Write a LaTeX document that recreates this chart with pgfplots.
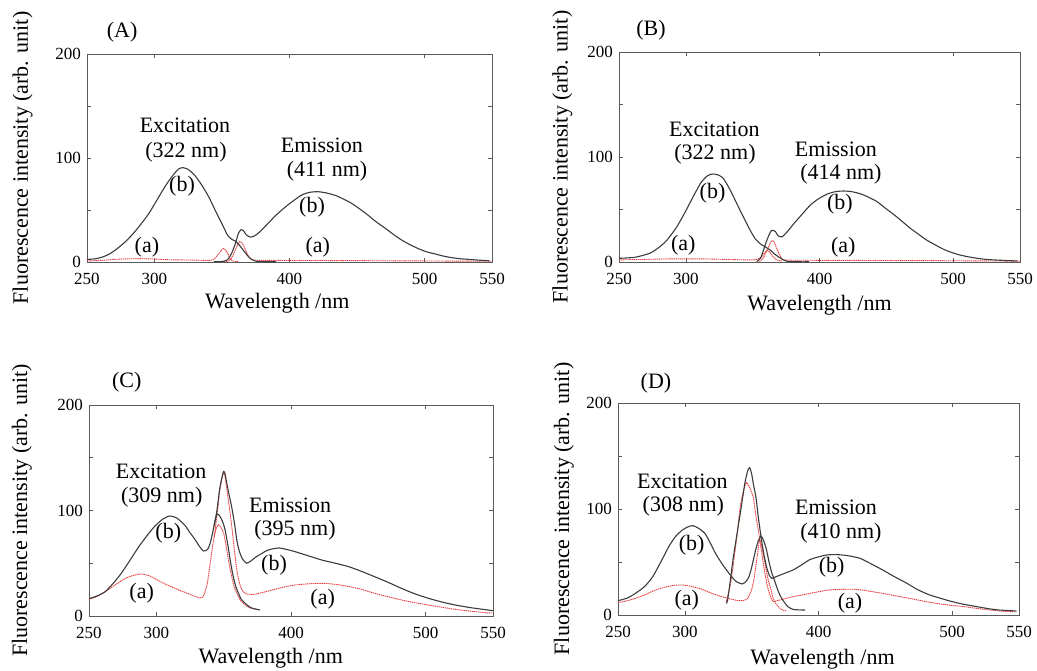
\documentclass[border=0pt]{standalone}
\usepackage{fontspec}
\setmainfont{Liberation Serif}
\usepackage{pgfplots}
\pgfplotsset{compat=1.18}
\definecolor{cblack}{RGB}{60,60,60}
\definecolor{cred}{RGB}{228,60,60}
\definecolor{cframe}{RGB}{90,90,90}
\newcommand\bigf{\fontsize{22}{26}\selectfont}
\newcommand\smallf{\fontsize{17}{20}\selectfont}
\pgfplotsset{
  panel/.style={
    scale only axis, anchor=south west,
    xmin=250, xmax=550, ymin=0, ymax=200,
    xtick={250,300,400,500,550},
    ytick={0,50,100,150,200}, yticklabels={0,,100,,200},
    tick align=inside, major tick length=4pt,
    tick style={color=cframe, line width=0.6pt},
    axis line style={color=cframe, line width=0.9pt},
    /pgf/number format/assume math mode=true,
    ticklabel style={font=\smallf, inner sep=1pt},
    xticklabel style={yshift=-10pt},
    yticklabel style={xshift=-5pt},
    label style={font=\bigf},
    xlabel={Wavelength /nm},
    ylabel={Fluorescence intensity (arb. unit)},
    clip=false,
  },
  bk/.style={color=cblack, line width=1.1pt, smooth, tension=0.4, no marks},
  rd/.style={color=cred, line width=0.9pt, dash pattern=on 1.4pt off 0.7pt, smooth, tension=0.4, no marks},
}
\begin{document}
\begin{tikzpicture}[x=1pt,y=1pt]
\path[use as bounding box] (0,0) rectangle (1037,670);

% ---------------- (A) ----------------
\begin{axis}[panel, at={(87pt,408pt)}, width=405pt, height=208pt,
  xlabel style={at={(axis description cs:0.47,-0.197)}, anchor=center},
  ylabel style={at={(axis description cs:-0.159,0.5)}, anchor=center}]
\addplot[rd] coordinates {(250,1) (260,1.5) (270,2.5) (280,3) (290,3.2) (300,2.8) (310,2.2) (320,2) (330,1.8) (340,1.5) (344,2.5) (347,7) (351,13) (354,9) (356,3) (358,1) (362,0.5)};
\addplot[rd] coordinates {(348,0.5) (355,1) (358,6) (361,15) (363,19.5) (365,18) (367,13) (369,7) (371,3) (374,1.8) (380,1.6) (400,1.5) (450,1.3) (500,1) (550,0.7)};
\addplot[bk] coordinates {(250,2.5) (256,3) (262,5) (267,8) (272,12.5) (278,19) (284,27) (290,36.5) (296,47) (302,60) (308,73) (314,84) (318,89.5) (321,90.7) (325,89) (330,83) (335,74) (340,63) (346,47) (351,34) (354,26) (357,22) (360,20) (363,16) (366,11) (369,6) (372,2.5) (375,0.8) (380,0.3) (390,0.2)};
\addplot[bk] coordinates {(344,0.3) (350,0.5) (354,2) (357,8) (360,18) (362,27) (364,31) (366,30) (368,26) (371,24) (374,25) (378,29) (384,37) (390,45) (397,53) (403,59) (409,64.4) (415,67) (421,67.6) (427,66.5) (434,64) (440,60.5) (446,56.4) (452,51) (458,45.2) (464,38.8) (471,32.4) (477,26.5) (483,21.2) (489,16.8) (495,13.1) (501,10) (508,7.7) (514,5.7) (520,4.2) (526,3.2) (532,2.6) (540,1.8) (548,1.2)};
\node[font=\bigf] at (axis cs:276,221) {(A)};
\node[font=\bigf] at (axis cs:322.6,131.7) {Excitation};
\node[font=\bigf] at (axis cs:323.3,105.8) {(322 nm)};
\node[font=\bigf] at (axis cs:320.4,73) {(b)};
\node[font=\bigf] at (axis cs:424,112.5) {Emission};
\node[font=\bigf] at (axis cs:427.8,87.5) {(411 nm)};
\node[font=\bigf] at (axis cs:416.7,52.9) {(b)};
\node[font=\bigf] at (axis cs:294.4,14.4) {(a)};
\node[font=\bigf] at (axis cs:421,14.4) {(a)};
\end{axis}

% ---------------- (B) ----------------
\begin{axis}[panel, at={(619pt,408pt)}, width=401pt, height=210pt,
  xlabel style={at={(axis description cs:0.5,-0.205)}, anchor=center},
  ylabel style={at={(axis description cs:-0.141,0.5)}, anchor=center}]
\addplot[rd] coordinates {(250,2) (270,2.5) (290,3) (310,3) (330,2.5) (350,2) (356,4) (359,9) (361,11) (363,9) (366,4) (369,1.5) (372,1)};
\addplot[rd] coordinates {(355,0.5) (358,4) (361,12) (364,20) (366,19) (368,13) (370,7) (372,3) (375,1.8) (400,1.6) (450,1.4) (500,1.2) (550,0.8)};
\addplot[bk] coordinates {(250,3.5) (262,4.5) (273,8.3) (280,14) (286,21) (293,33) (299,46.4) (305,61) (311,75) (316,82) (320,83.8) (324,83) (328,79.7) (333,69) (338,56) (343,43) (348,30.5) (352,22) (356,17) (360,14) (363,11.4) (367,7) (371,3.5) (376,0.5) (385,0.2) (392,0.2)};
\addplot[bk] coordinates {(353,0.3) (356,4) (358,11) (361,22) (364,30) (367,29) (369,25) (372,24) (376,29) (381,36.8) (387,45.5) (393,54) (399,60) (406,64.8) (412,67) (418,67.6) (424,67) (431,64.8) (437,61.5) (443,57.5) (449,51.5) (456,44.8) (462,38.5) (468,32) (474,26.5) (480,21) (487,16) (493,12) (499,9) (505,6.7) (511,5) (518,3.5) (524,2.6) (530,2) (540,1.4) (548,1)};
\node[font=\bigf] at (axis cs:274,221) {(B)};
\node[font=\bigf] at (axis cs:321.3,126.4) {Excitation};
\node[font=\bigf] at (axis cs:321.8,102.6) {(322 nm)};
\node[font=\bigf] at (axis cs:320,65.4) {(b)};
\node[font=\bigf] at (axis cs:412.3,107.6) {Emission};
\node[font=\bigf] at (axis cs:416,83.8) {(414 nm)};
\node[font=\bigf] at (axis cs:415.3,55.2) {(b)};
\node[font=\bigf] at (axis cs:298.1,16.2) {(a)};
\node[font=\bigf] at (axis cs:417.8,14) {(a)};
\end{axis}

% ---------------- (C) ----------------
\begin{axis}[panel, at={(89pt,54pt)}, width=404pt, height=211pt,
  xlabel style={at={(axis description cs:0.45,-0.199)}, anchor=center},
  ylabel style={at={(axis description cs:-0.166,0.5)}, anchor=center}]
\addplot[rd] coordinates {(250,15.8) (256,18.5) (263,24) (270,30) (277,35.7) (283,38.5) (289,39.8) (295,38) (301,34) (307,30) (314,26.2) (319,23.5) (324,21) (328,19) (331,17.5) (334,17.5) (336,22) (338,32) (340,50) (342,68) (344,81) (346,86.5) (348,84) (350,78.4) (352,65) (354,50) (356,37) (358,27) (361,18.3) (363,14) (366,10.4) (370,7.5) (374,6.3)};
\addplot[rd] coordinates {(343,75) (345,95) (347,118) (349,132) (350,135) (351,133) (352,123) (354,105) (356,85) (358,62) (360,42) (362,30) (364,24) (367,21) (372,20.5) (378,22) (386,24.6) (395,27.5) (403,29.4) (413,30.5) (423,31) (433,30) (443,28) (453,25) (462,21.5) (472,18.3) (482,15.2) (492,12.6) (502,10.4) (512,8.3) (522,6.3) (534,4.5) (546,3) (550,2.8)};
\addplot[bk] coordinates {(250,16.5) (256,19) (262,23) (268,31) (274,40.5) (280,52) (287,65.7) (293,76) (299,85.3) (305,92) (310,94.8) (315,93) (321,86.3) (325,79) (329,72) (332,66) (335,61.6) (338,63) (340,69) (342,80) (343.5,90) (345,96.5) (347,95) (349,90) (351,82) (353,68) (355,52) (357,38) (359,28) (361,21.5) (363,16) (366,12) (370,8) (374,6.5) (377,5.7)};
\addplot[bk] coordinates {(343,85) (345,100) (347,120) (349,133) (350,137) (351,135) (352,128) (354,115) (356,103) (358,88) (360,70) (362,60) (364,54) (367,50) (370,52) (374,56) (378,59) (382,62) (386,63.5) (391,64.5) (397,63) (403,61) (413,57) (423,53) (433,50) (443,46.7) (453,42) (462,37.3) (472,32) (482,26.2) (492,21) (502,16.8) (512,13.3) (522,10.4) (534,7.8) (546,5.7) (550,5)};
\node[font=\bigf] at (axis cs:278,222) {(C)};
\node[font=\bigf] at (axis cs:303.5,136.8) {Excitation};
\node[font=\bigf] at (axis cs:304,113) {(309 nm)};
\node[font=\bigf] at (axis cs:308.9,78.4) {(b)};
\node[font=\bigf] at (axis cs:399.3,105.2) {Emission};
\node[font=\bigf] at (axis cs:403,81.5) {(395 nm)};
\node[font=\bigf] at (axis cs:387.4,48.3) {(b)};
\node[font=\bigf] at (axis cs:289.1,21.5) {(a)};
\node[font=\bigf] at (axis cs:423.5,15.8) {(a)};
\end{axis}

% ---------------- (D) ----------------
\begin{axis}[panel, at={(618pt,55pt)}, width=401pt, height=212pt,
  xlabel style={at={(axis description cs:0.51,-0.21)}, anchor=center},
  ylabel style={at={(axis description cs:-0.135,0.5)}, anchor=center}]
\addplot[rd] coordinates {(250,11.6) (257,13.5) (263,15.7) (270,19) (278,23.6) (286,26.5) (292,28) (298,28.3) (305,27) (313,24.2) (319,21) (326,18) (333,15.5) (340,13.5) (344,13.8) (347,15.7) (350,24) (352,36) (354,54) (356,70.8) (358,62) (360,48.7) (362,35) (364.5,23.6) (366,16) (368,11) (371,6.5) (373,4.7) (376,4)};
\addplot[rd] coordinates {(331,12.6) (334,28) (336.4,48.7) (339,75) (341.4,102) (344,118) (346.2,124.8) (348.5,120) (351.2,111) (353,95) (355,80) (357,63) (358.7,48.7) (360.5,35) (362.5,23.6) (364.5,16) (366.2,12.6) (369,13.5) (373,14.8) (380,17) (388,19) (398,21.5) (408,23.6) (418,24.2) (428,24.2) (438,22.5) (448,20.4) (458,18) (468,15.7) (478,13.2) (488,11) (498,9.3) (508,8) (518,6.3) (528,4.7) (538,3.6) (548,3)};
\addplot[bk] coordinates {(250,13.5) (257,16) (263,20.4) (270,27) (276,36.2) (282,50) (288,64.5) (293,74) (298,80) (302,83) (306,84.3) (310,82) (315,77) (319,68) (323,58) (328,48) (333,39.4) (338,32) (343,29.3) (346,32) (348,36.2) (350,45) (353,61.4) (355,70) (357,74.5) (359,70) (361,62) (363,50) (365,40) (367,33) (370,22) (373,14.6) (377,8) (381,5.3) (386,4.8) (390,4.7)};
\addplot[bk] coordinates {(331,11) (332,14) (334.4,36.2) (336,52) (338.3,70.8) (341,92) (343.3,111) (345,125) (347,136) (348.5,139) (350,133) (351.5,122) (353.2,111) (355,92) (357,74) (359,58) (361,46) (363,38) (365,34.6) (368,36) (374,39) (381,42.5) (387,47) (393,51.9) (399,54.5) (406,56.6) (412,57) (418,56.6) (424,55.5) (431,53.5) (439,48.5) (448,42.5) (457,36) (466,30) (474,24) (483,19) (492,15.5) (500,12.6) (509,10) (518,8) (527,6) (535,4.7) (548,3.8)};
\node[font=\bigf] at (axis cs:278.4,218.6) {(D)};
\node[font=\bigf] at (axis cs:298.1,126.4) {Excitation};
\node[font=\bigf] at (axis cs:298.9,102.8) {(308 nm)};
\node[font=\bigf] at (axis cs:305.1,66) {(b)};
\node[font=\bigf] at (axis cs:413.1,101.2) {Emission};
\node[font=\bigf] at (axis cs:416.8,77) {(410 nm)};
\node[font=\bigf] at (axis cs:409.9,44.7) {(b)};
\node[font=\bigf] at (axis cs:301.4,14.2) {(a)};
\node[font=\bigf] at (axis cs:423.6,11) {(a)};
\end{axis}
\end{tikzpicture}
\end{document}
